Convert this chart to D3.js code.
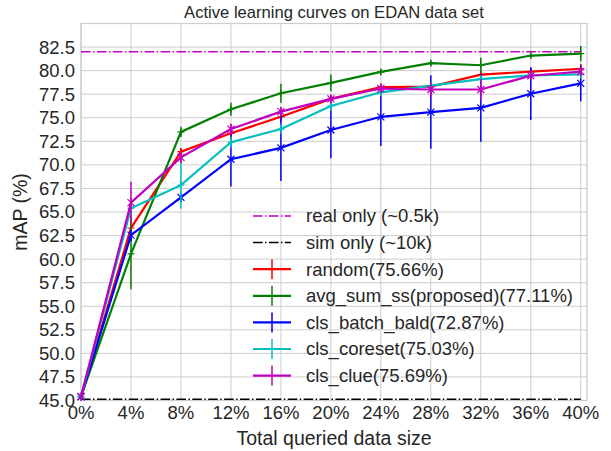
<!DOCTYPE html>
<html>
<head>
<meta charset="utf-8">
<script src="https://cdn.jsdelivr.net/npm/d3@7"></script>
<style>
  body { margin: 0; background: #fff; }
  text { font-family: "Liberation Sans", Arial, sans-serif; fill: #262626; }
</style>
</head>
<body>
<div id="chart"></div>
<script>
// queried data size (%)
const xPct = [0, 4, 8, 12, 16, 20, 24, 28, 32, 36, 40];

// mean mAP per method
const randomMean = [45.4, 63.3, 71.4, 73.35, 75.1, 77.0, 78.25, 78.3, 79.57, 79.9, 80.2];
const avgSumMean = [45.4, 60.55, 73.5, 75.9, 77.6, 78.7, 79.86, 80.8, 80.57, 81.6, 81.8];
const batchBaldMean = [45.4, 62.55, 66.55, 70.6, 71.8, 73.7, 75.1, 75.6, 76.05, 77.55, 78.65];
const coresetMean = [45.4, 65.4, 67.85, 72.4, 73.8, 76.25, 77.7, 78.4, 79.1, 79.5, 79.6];
const clueMean = [45.4, 66.0, 70.8, 73.8, 75.65, 77.0, 78.1, 78.0, 78.0, 79.46, 79.9];

// error (std) per method
const randomErr = [0, 1.4, 0.4, 0.5, 0.5, 0.4, 0.4, 0.5, 0.4, 0.3, 0.5];
const avgSumErr = [0, 3.75, 0.55, 0.7, 1.0, 0.9, 0.3, 0.3, 0.8, 0.3, 0.8];
const batchBaldErr = [0, 0.6, 0.5, 2.9, 3.5, 3.0, 3.1, 3.9, 3.6, 2.8, 1.9];
const coresetErr = [0, 0.8, 2.5, 0.6, 0.5, 0.5, 0.4, 0.4, 0.4, 0.3, 0.4];
const clueErr = [0, 2.2, 0.6, 0.6, 0.5, 0.4, 0.4, 0.8, 1.1, 0.5, 0.5];

// reference lines
const realOnly = 82.0;
const simOnly = 45.12;

const yTicks = d3.range(45, 82.6, 2.5);

const series = [
  { name: "random(75.66%)", color: "#ff0000", marker: "plus", mean: randomMean, err: randomErr },
  { name: "avg_sum_ss(proposed)(77.11%)", color: "#008000", marker: "plus", mean: avgSumMean, err: avgSumErr },
  { name: "cls_batch_bald(72.87%)", color: "#0000ff", marker: "x", mean: batchBaldMean, err: batchBaldErr },
  { name: "cls_coreset(75.03%)", color: "#00bfbf", marker: "plus", mean: coresetMean, err: coresetErr },
  { name: "cls_clue(75.69%)", color: "#bf00bf", marker: "star", mean: clueMean, err: clueErr }
];

const hlines = [
  { name: "real only (~0.5k)", color: "#bf00bf", value: realOnly },
  { name: "sim only (~10k)", color: "#000000", value: simOnly }
];

const width = 611, height = 451;
const margin = { top: 23.5, left: 81, right: 24, bottom: 50.5 };

const svg = d3.select("#chart").append("svg")
  .attr("width", width).attr("height", height);

const x = d3.scaleLinear().domain([0, 40.5]).range([margin.left, width - margin.right]);
const y = d3.scaleLinear().domain([45, 85]).range([height - margin.bottom, margin.top]);

// grid
svg.append("g").selectAll("line").data(xPct).join("line")
  .attr("x1", d => x(d)).attr("x2", d => x(d))
  .attr("y1", y(85)).attr("y2", y(45))
  .attr("stroke", "#cccccc").attr("stroke-width", 1);
svg.append("g").selectAll("line").data(yTicks).join("line")
  .attr("x1", x(0)).attr("x2", x(40.5))
  .attr("y1", d => y(d)).attr("y2", d => y(d))
  .attr("stroke", "#cccccc").attr("stroke-width", 1);

// frame
svg.append("rect")
  .attr("x", x(0)).attr("y", y(85))
  .attr("width", x(40.5) - x(0)).attr("height", y(45) - y(85))
  .attr("fill", "none").attr("stroke", "#cccccc").attr("stroke-width", 1.25);

// tick labels
svg.append("g").selectAll("text").data(yTicks).join("text")
  .attr("x", x(0) - 6).attr("y", d => y(d))
  .attr("dy", "0.35em").attr("text-anchor", "end")
  .style("font-size", "18.5px")
  .text(d => d.toFixed(1));
svg.append("g").selectAll("text").data(xPct).join("text")
  .attr("x", d => x(d)).attr("y", y(45) + 4)
  .attr("dy", "0.8em").attr("text-anchor", "middle")
  .style("font-size", "18.5px")
  .text(d => d + "%");

// titles
svg.append("text").attr("x", (x(0) + x(40.5)) / 2).attr("y", 18)
  .attr("text-anchor", "middle").style("font-size", "16.6px")
  .text("Active learning curves on EDAN data set");
svg.append("text").attr("x", (x(0) + x(40.5)) / 2).attr("y", 445)
  .attr("text-anchor", "middle").style("font-size", "19.5px")
  .text("Total queried data size");
svg.append("text")
  .attr("transform", `translate(27,${(y(45) + y(85)) / 2}) rotate(-90)`)
  .attr("text-anchor", "middle").style("font-size", "19.5px")
  .text("mAP (%)");

// reference lines
svg.append("g").selectAll("line").data(hlines).join("line")
  .attr("x1", x(0)).attr("x2", x(40))
  .attr("y1", d => y(d.value)).attr("y2", d => y(d.value))
  .attr("stroke", d => d.color).attr("stroke-width", 1.5)
  .attr("stroke-dasharray", "9.6,2.4,1.5,2.4");

function markerPath(type, s) {
  if (type === "plus") return `M${-s},0H${s}M0,${-s}V${s}`;
  if (type === "x") return `M${-s},${-s}L${s},${s}M${-s},${s}L${s},${-s}`;
  return `M${-s},${-s}L${s},${s}M${-s},${s}L${s},${-s}M0,${-s * 1.3}V${s * 1.3}`;
}

const line = d3.line().x(d => x(d[0])).y(d => y(d[1]));

series.forEach(s => {
  const pts = xPct.map((v, i) => [v, s.mean[i], s.err[i]]);
  const g = svg.append("g");
  g.selectAll("line.err").data(pts.filter(p => p[2] > 0)).join("line")
    .attr("class", "err")
    .attr("x1", d => x(d[0])).attr("x2", d => x(d[0]))
    .attr("y1", d => y(d[1] - d[2])).attr("y2", d => y(d[1] + d[2]))
    .attr("stroke", s.color).attr("stroke-width", 1.5);
  g.append("path").datum(pts).attr("d", line)
    .attr("fill", "none").attr("stroke", s.color).attr("stroke-width", 2.2);
  g.selectAll("path.mk").data(pts).join("path")
    .attr("class", "mk")
    .attr("transform", d => `translate(${x(d[0])},${y(d[1])})`)
    .attr("d", markerPath(s.marker, 3.5))
    .attr("stroke", s.color).attr("stroke-width", 1.2).attr("fill", "none");
});

// legend
const legend = svg.append("g").attr("transform", "translate(253,216)");
const rowH = 26.6;
const entries = hlines.map(h => ({ name: h.name, color: h.color, dash: true }))
  .concat(series.map(s => ({ name: s.name, color: s.color, dash: false })));
const row = legend.selectAll("g").data(entries).join("g")
  .attr("transform", (d, i) => `translate(0,${i * rowH})`);
row.append("line")
  .attr("x1", 0).attr("x2", 38).attr("y1", 0).attr("y2", 0)
  .attr("stroke", d => d.color)
  .attr("stroke-width", d => d.dash ? 1.5 : 2.2)
  .attr("stroke-dasharray", d => d.dash ? "9.6,2.4,1.5,2.4" : null);
row.filter(d => !d.dash).append("line")
  .attr("x1", 19).attr("x2", 19).attr("y1", -10).attr("y2", 10)
  .attr("stroke", d => d.color).attr("stroke-width", 1.5);
row.append("text")
  .attr("x", 53).attr("y", 0).attr("dy", "0.35em")
  .style("font-size", "18.5px")
  .text(d => d.name);
</script>
</body>
</html>
